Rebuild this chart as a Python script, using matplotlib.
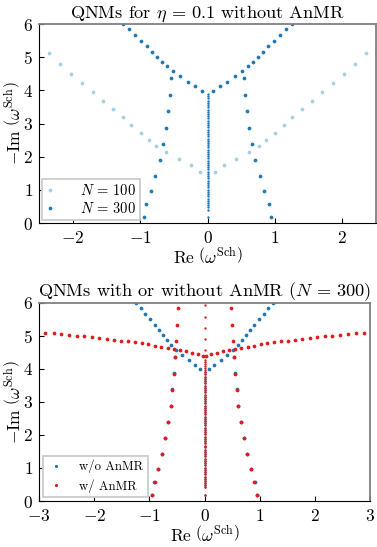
import matplotlib
matplotlib.use("Agg")
import matplotlib.pyplot as plt

plt.rcParams['font.family'] = 'serif'
plt.rcParams['font.serif'] = ['cmr10']
plt.rcParams['mathtext.fontset'] = 'cm'
plt.rcParams['axes.formatter.use_mathtext'] = True
plt.rcParams['axes.unicode_minus'] = True

light_blue = '#a6cee3'
dark_blue = '#1f78b4'
red = '#e31a1c'

# N = 100, eta = 0.1, without AnMR
n100_x = [-2.36, -2.195, -2.025, -1.86, -1.705, -1.555, -1.405, -1.26, -1.13, -0.995, -0.875,
          -0.77, -0.62, -0.42, -0.25, -0.115,
          0.115, 0.25, 0.42, 0.62, 0.77, 0.875, 0.995, 1.13, 1.26, 1.405, 1.555, 1.705,
          1.86, 2.025, 2.195, 2.36]
n100_y = [5.12, 4.81, 4.51, 4.23, 3.95, 3.69, 3.44, 3.19, 2.95, 2.73, 2.52,
          2.33, 2.14, 1.94, 1.75, 1.55,
          1.55, 1.75, 1.94, 2.14, 2.33, 2.52, 2.73, 2.95, 3.19, 3.44, 3.69, 3.95,
          4.23, 4.51, 4.81, 5.12]

# N = 300, eta = 0.1, without AnMR (branches)
n300_x = [-0.945, -0.91, -0.845, -0.775, -0.71, -0.665, -0.615, -0.585, -0.56, -0.54,
          -0.08, -0.18, -0.29, -0.415, -0.515, -0.605, -0.675, -0.75, -0.83, -0.905,
          -0.99, -1.075, -1.16, -1.25,
          0.945, 0.91, 0.845, 0.775, 0.71, 0.665, 0.615, 0.585, 0.56, 0.54,
          0.08, 0.18, 0.29, 0.415, 0.515, 0.605, 0.675, 0.75, 0.83, 0.905,
          0.99, 1.075, 1.16, 1.25]
n300_y = [0.18, 0.58, 0.98, 1.43, 1.91, 2.39, 2.88, 3.38, 3.86, 4.36,
          3.99, 4.12, 4.26, 4.42, 4.58, 4.73, 4.86, 5.01, 5.17, 5.33,
          5.50, 5.67, 5.84, 6.0,
          0.18, 0.58, 0.98, 1.43, 1.91, 2.39, 2.88, 3.38, 3.86, 4.36,
          3.99, 4.12, 4.26, 4.42, 4.58, 4.73, 4.86, 5.01, 5.17, 5.33,
          5.50, 5.67, 5.84, 6.0]

# N = 300 purely imaginary modes (Re = 0)
n300_axis_y = [0.19, 0.41, 0.48, 0.54, 0.61, 0.68, 0.74, 0.81, 0.88, 0.95, 1.01, 1.08,
               1.15, 1.21, 1.28, 1.35, 1.41, 1.48, 1.55, 1.62, 1.68, 1.75, 1.82, 1.88,
               1.95, 2.02, 2.08, 2.15, 2.22, 2.29, 2.35, 2.42, 2.49, 2.55, 2.62, 2.69,
               2.75, 2.82, 2.89, 2.96, 3.02, 3.09, 3.16, 3.22, 3.29, 3.36, 3.42, 3.49,
               3.56, 3.63, 3.69, 3.76, 3.83, 3.89]

# N = 300 with AnMR (branches)
anmr_x = [-0.95, -0.905, -0.845, -0.775, -0.717, -0.66, -0.615, -0.585, -0.56, -0.54,
          -0.515, -0.497, -0.482,
          0.95, 0.905, 0.845, 0.775, 0.717, 0.66, 0.615, 0.585, 0.56, 0.54,
          0.515, 0.497, 0.482,
          -0.03, -0.12, -0.23, -0.34, -0.45, -0.56, -0.67, -0.79, -0.905, -1.02, -1.14,
          -1.265, -1.39, -1.515, -1.64, -1.775, -1.907, -2.04, -2.18, -2.316, -2.455,
          -2.597, -2.74, -2.886,
          0.03, 0.12, 0.23, 0.34, 0.45, 0.56, 0.67, 0.79, 0.905, 1.02, 1.14,
          1.265, 1.39, 1.515, 1.64, 1.775, 1.907, 2.04, 2.18, 2.316, 2.455,
          2.597, 2.74, 2.886]
anmr_y = [0.18, 0.57, 0.98, 1.43, 1.90, 2.38, 2.87, 3.37, 3.85, 4.35,
          4.84, 5.335, 5.83,
          0.18, 0.57, 0.98, 1.43, 1.90, 2.38, 2.87, 3.37, 3.85, 4.35,
          4.84, 5.335, 5.83,
          4.40, 4.45, 4.49, 4.53, 4.56, 4.60, 4.63, 4.66, 4.70, 4.74, 4.77,
          4.80, 4.83, 4.85, 4.88, 4.91, 4.93, 4.96, 4.98, 5.00, 5.03,
          5.05, 5.07, 5.09,
          4.40, 4.45, 4.49, 4.53, 4.56, 4.60, 4.63, 4.66, 4.70, 4.74, 4.77,
          4.80, 4.83, 4.85, 4.88, 4.91, 4.93, 4.96, 4.98, 5.00, 5.03,
          5.05, 5.07, 5.09]

# N = 300 with AnMR, Re = 0
anmr_axis_y = [0.18, 0.41, 0.48, 0.54, 0.61, 0.68, 0.74, 0.81, 0.88, 0.95, 1.01, 1.08,
               1.15, 1.21, 1.28, 1.35, 1.41, 1.48, 1.55, 1.62, 1.68, 1.75, 1.82, 1.88,
               1.95, 2.02, 2.08, 2.15, 2.22, 2.29, 2.35, 2.42, 2.49, 2.55, 2.62, 2.69,
               2.75, 2.82, 2.89, 2.96, 3.02, 3.09, 3.16, 3.22, 3.29, 3.36, 3.42, 3.49,
               3.56, 3.63, 3.69, 3.76, 3.83, 3.89, 3.96, 4.02, 4.09, 4.15, 4.22, 4.28,
               4.58, 4.90, 5.23, 5.57, 5.92]


def style_axes(ax, xlim, xticks):
    ax.set_xlim(xlim)
    ax.set_ylim(0, 6)
    ax.set_xticks(xticks)
    ax.set_yticks([0, 1, 2, 3, 4, 5, 6])
    ax.tick_params(direction='in', labelsize=12.5, length=3.5, top=False, right=False)
    ax.tick_params(axis='x', pad=5)
    ax.tick_params(axis='y', pad=4.5)
    ax.spines['top'].set_color('#808080')
    ax.spines['right'].set_color('#808080')
    ax.spines['top'].set_linewidth(1.3)
    ax.spines['right'].set_linewidth(1.3)
    ax.set_xlabel(r'$\mathrm{Re}\ \left(\omega^{\mathrm{Sch}}\right)$', fontsize=12.5, labelpad=0)
    ax.set_ylabel(r'$-\mathrm{Im}\ \left(\omega^{\mathrm{Sch}}\right)$', fontsize=12.5, labelpad=0)


fig = plt.figure(figsize=(3.77, 5.47), dpi=100)

ax1 = fig.add_axes([0.104, 0.592, 0.893, 0.364])
ax1.plot(n100_x, n100_y, 'o', color=light_blue, ms=2.7, mew=0, label=r'$N\,=\,100$')
ax1.plot(n300_x, n300_y, 'o', color=dark_blue, ms=2.7, mew=0, label=r'$N\,=\,300$')
ax1.plot([0] * len(n300_axis_y), n300_axis_y, 'o', color=dark_blue, ms=1.7, mew=0)
style_axes(ax1, (-2.5, 2.5), [-2, -1, 0, 1, 2])
ax1.set_title(r'QNMs for $\eta\,=\,0.1$ without AnMR', fontsize=13.2, pad=3)
leg1 = ax1.legend(loc='lower left', fontsize=10.5, fancybox=False, edgecolor='#cccccc',
                  handlelength=0.5, handletextpad=1.8, borderaxespad=0.2,
                  borderpad=0.3, labelspacing=0.2, framealpha=1)
leg1.get_frame().set_linewidth(1.3)

ax2 = fig.add_axes([0.104, 0.084, 0.877, 0.3626])
ax2.plot(n300_x, n300_y, 'o', color=dark_blue, ms=2.7, mew=0, label='w/o AnMR')
ax2.plot([0] * len(n300_axis_y), n300_axis_y, 'o', color=dark_blue, ms=1.7, mew=0)
ax2.plot(anmr_x, anmr_y, 'o', color=red, ms=2.7, mew=0, label='w/ AnMR')
ax2.plot([0] * len(anmr_axis_y), anmr_axis_y, 'o', color=red, ms=1.7, mew=0)
style_axes(ax2, (-3, 3), [-3, -2, -1, 0, 1, 2, 3])
ax2.set_title(r'QNMs with or without AnMR ($N\,=\,300$)', fontsize=13.2, pad=3)
leg2 = ax2.legend(loc='lower left', fontsize=9.2, fancybox=False, edgecolor='#cccccc',
                  handlelength=1.4, handletextpad=1.1, borderaxespad=0.3,
                  borderpad=0.35, labelspacing=0.45, framealpha=1, markerscale=0.85)
leg2.get_frame().set_linewidth(1.3)

fig.savefig('out.png', dpi=100)
